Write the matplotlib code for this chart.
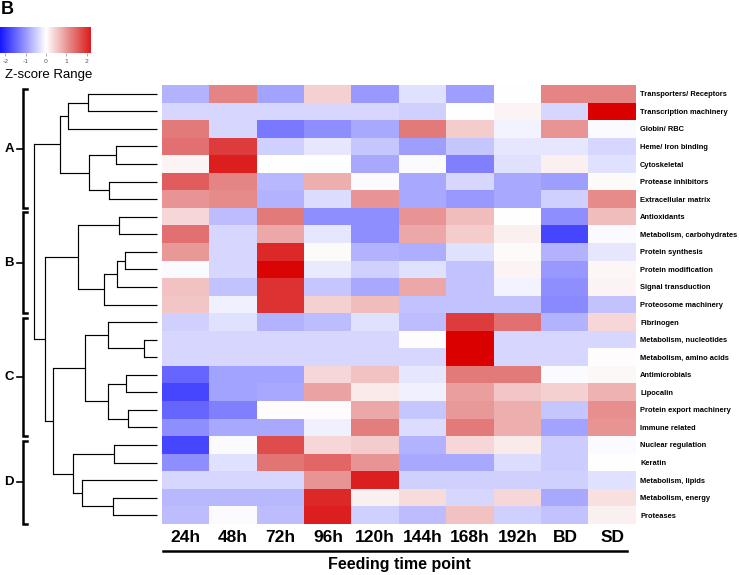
import matplotlib
matplotlib.use('Agg')
import matplotlib.pyplot as plt
import numpy as np
from matplotlib.colors import LinearSegmentedColormap

categories = ['Transporters/ Receptors', 'Transcription machinery', 'Globin/ RBC',
              'Heme/ Iron binding', 'Cytoskeletal', 'Protease inhibitors',
              'Extracellular matrix', 'Antioxidants', 'Metabolism, carbohydrates',
              'Protein synthesis', 'Protein modification', 'Signal transduction',
              'Proteosome machinery', 'Fibrinogen', 'Metabolism, nucleotides',
              'Metabolism, amino acids', 'Antimicrobials', 'Lipocalin',
              'Protein export machinery', 'Immune related', 'Nuclear regulation',
              'Keratin', 'Metabolism, lipids', 'Metabolism, energy', 'Proteases']
timepoints = ['24h', '48h', '72h', '96h', '120h', '144h', '168h', '192h', 'BD', 'SD']

z_24h = [-0.75, -0.4, 1.3, 1.4, 0.1, 1.6, 1.05, 0.4, 1.4, 1.0, -0.05, 0.6, 0.55,
         -0.45, -0.4, -0.4, -1.5, -1.8, -1.5, -1.1, -1.8, -1.1, -0.4, -0.7, -0.65]
z_48h = [1.2, -0.4, -0.4, 1.9, 2.2, 1.2, 1.15, -0.65, -0.4, -0.4, -0.4, -0.6, -0.15,
         -0.3, -0.4, -0.4, -0.9, -0.9, -1.25, -0.85, -0.05, -0.3, -0.4, -0.7, -0.05]
z_72h = [-0.9, -0.4, -1.3, -0.45, 0.0, -0.7, -0.75, 1.3, 0.85, 2.1, 2.45, 2.0, 2.0,
         -0.75, -0.4, -0.4, -0.9, -0.85, 0.03, -0.85, 1.75, 1.35, -0.4, -0.7, -0.65]
z_96h = [0.45, -0.4, -1.1, -0.25, 0.0, 0.8, -0.35, -1.1, -0.25, 0.05, -0.2, -0.55, 0.45,
         -0.65, -0.4, -0.4, 0.4, 0.9, 0.03, -0.15, 0.4, 1.5, 1.05, 2.1, 2.2]
z_120h = [-1.0, -0.4, -0.85, -0.55, -0.85, -0.05, 1.05, -1.1, -1.1, -0.75, -0.45, -0.85, 0.65,
          -0.3, -0.4, -0.4, 0.6, 0.2, 0.85, 1.25, 0.5, 1.05, 2.2, 0.15, -0.45]
z_144h = [-0.3, -0.45, 1.3, -0.95, -0.05, -0.85, -0.85, 1.05, 0.85, -0.8, -0.3, 0.85, -0.6,
          -0.65, 0.03, -0.4, -0.25, -0.15, -0.55, -0.35, -0.75, -0.85, -0.45, 0.35, -0.65]
z_168h = [-0.95, 0.0, 0.5, -0.55, -1.25, -0.4, -1.0, 0.65, 0.5, -0.3, -0.6, -0.6, -0.6,
          1.9, 2.5, 2.5, 1.3, 0.95, 1.0, 1.3, 0.4, -0.85, -0.45, -0.4, 0.6]
z_192h = [0.0, 0.1, -0.1, -0.25, -0.3, -0.85, -0.85, 0.0, 0.15, 0.05, 0.1, -0.1, -0.6,
          1.4, -0.4, -0.4, 1.3, 0.55, 0.8, 0.8, 0.2, -0.35, -0.45, 0.4, -0.45]
z_bd = [1.2, -0.4, 1.05, -0.25, 0.15, -0.95, -0.45, -1.1, -1.8, -0.75, -1.0, -1.1, -1.15,
        -0.75, -0.4, -0.4, -0.05, 0.45, -0.55, -0.9, -0.5, -0.5, -0.45, -0.85, -0.6]
z_sd = [1.2, 2.5, -0.05, -0.4, -0.3, 0.05, 1.15, 0.65, -0.05, -0.25, 0.08, 0.1, -0.6,
        0.4, -0.4, 0.03, 0.06, 0.75, 1.1, 1.05, -0.05, 0.0, -0.3, 0.3, 0.15]

groups = ['A', 'B', 'C', 'D']
group_sizes = [7, 6, 7, 5]

# hierarchical merges: (left node, right node, height); leaves 0..24, new nodes 25..
linkage = [
    (0, 1, 69), (25, 2, 89), (3, 4, 41), (5, 6, 48), (27, 28, 68), (26, 29, 97),
    (7, 8, 38), (9, 10, 32), (32, 11, 40), (33, 12, 53), (31, 34, 79),
    (14, 15, 13), (13, 36, 49), (16, 17, 31), (18, 19, 29), (38, 39, 49), (37, 40, 72),
    (20, 21, 43), (23, 24, 44), (22, 43, 75), (42, 44, 84),
    (41, 45, 104), (35, 46, 112), (30, 47, 123),
]

cbar_ticks = [-2, -1, 0, 1, 2]

W, H = 740, 575
fig = plt.figure(figsize=(W / 100, H / 100), dpi=100)

cmap = LinearSegmentedColormap.from_list(
    'bwr_custom',
    [(0.0, (0 / 255, 0 / 255, 255 / 255)),
     (0.5, (1, 1, 1)),
     (0.75, (228 / 255, 128 / 255, 128 / 255)),
     (1.0, (218 / 255, 0, 0))])
vmin, vmax = -2.5, 2.5

data = np.array([z_24h, z_48h, z_72h, z_96h, z_120h, z_144h, z_168h, z_192h, z_bd, z_sd]).T
nrows, ncols = data.shape

# heatmap
hx0, hx1, hy0, hy1 = 162, 636, 85, 524
ax = fig.add_axes([hx0 / W, 1 - hy1 / H, (hx1 - hx0) / W, (hy1 - hy0) / H])
ax.imshow(data, cmap=cmap, vmin=vmin, vmax=vmax, aspect='auto', interpolation='nearest')
ax.set_xlim(-0.5, ncols - 0.5)
ax.set_ylim(nrows - 0.5, -0.5)
for s in ax.spines.values():
    s.set_visible(False)
ax.set_yticks(range(nrows))
ax.set_yticklabels(categories, fontsize=5.4, fontweight='bold', family='Liberation Sans')
ax.yaxis.tick_right()
ax.tick_params(axis='y', length=0, pad=3)
ax.set_xticks(range(ncols))
ax.set_xticklabels(timepoints, fontsize=12.5, fontweight='bold', family='Liberation Sans')
ax.tick_params(axis='x', length=0, pad=4)
ax.plot([0.002, 0.981], [-0.0615, -0.0615], transform=ax.transAxes, color='black',
        lw=1.8, clip_on=False)
ax.text(0.5, -0.093, 'Feeding time point', transform=ax.transAxes, ha='center', va='center',
        fontsize=11.5, fontweight='bold', family='Liberation Sans')

# dendrogram
dax = fig.add_axes([0, 1 - hy1 / H, hx0 / W, (hy1 - hy0) / H])
dax.set_xlim(157, -5)
dax.set_ylim(nrows - 0.5, -0.5)
dax.axis('off')
pos = {i: (float(i), 0.0) for i in range(nrows)}
lw_d = 0.85
for k, (a, b, h) in enumerate(linkage):
    ya, ha = pos[a]
    yb, hb = pos[b]
    dax.plot([ha, h], [ya, ya], color='black', lw=lw_d, solid_capstyle='butt')
    dax.plot([hb, h], [yb, yb], color='black', lw=lw_d, solid_capstyle='butt')
    dax.plot([h, h], [ya, yb], color='black', lw=lw_d, solid_capstyle='projecting')
    pos[nrows + k] = ((ya + yb) / 2, float(h))

# group brackets
first = 0
for g, n in zip(groups, group_sizes):
    last = first + n - 1
    y0, y1 = first - 0.25, last + 0.5
    dax.plot([130, 134, 134, 130], [y0, y0, y1, y1], color='black', lw=1.8,
             clip_on=False, solid_joinstyle='miter')
    ym = (y0 + y1) / 2
    dax.plot([134, 140], [ym, ym], color='black', lw=1.2, clip_on=False)
    dax.text(148, ym, g, ha='center', va='center', fontsize=9.5, fontweight='bold',
             family='Liberation Sans')
    first = last + 1

# colour scale
cax = fig.add_axes([0, 1 - 53 / H, 91 / W, 26 / H])
lo, hi = -2.27, 2.22
grad = np.linspace(lo, hi, 256)[None, :]
cax.imshow(grad, cmap=cmap, vmin=vmin, vmax=vmax, aspect='auto',
           extent=[lo, hi, 0, 1])
cax.set_xlim(lo, hi)
cax.set_yticks([])
cax.set_xticks(cbar_ticks)
cax.set_xticklabels([str(t) for t in cbar_ticks], fontsize=4.5, color='#555555')
cax.tick_params(axis='x', length=2, width=0.5, color='#888888', pad=2)
for s in cax.spines.values():
    s.set_visible(False)
fig.text(5 / W, 1 - 75 / H, 'Z-score Range', ha='left', va='center', fontsize=9.5,
         family='Liberation Sans')
fig.text(1 / W, 1 - 1 / H, 'B', ha='left', va='top', fontsize=13, fontweight='bold',
         family='Liberation Sans')

fig.savefig('out.png', dpi=100)
